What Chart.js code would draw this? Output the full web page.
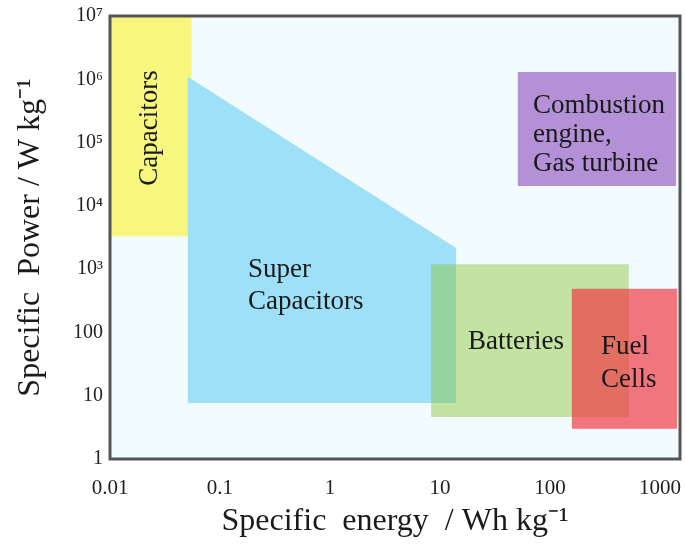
<!DOCTYPE html>
<html>
<head>
<meta charset="utf-8">
<script src="https://cdn.jsdelivr.net/npm/chart.js@4.4.1/dist/chart.umd.min.js"></script>
<style>
  body { margin: 0; background: #ffffff; }
  canvas { display: block; }
</style>
</head>
<body>
<canvas id="ragone" width="685" height="544"></canvas>
<script>
// ---- data ----
// x = specific energy (Wh/kg), y = specific power (W/kg)
const xTickValues = [0.01, 0.1, 1, 10, 100, 1000];
const xTickLabels = ['0.01', '0.1', '1', '10', '100', '1000'];
const yTickValues = [1, 10, 100, 1e3, 1e4, 1e5, 1e6, 1e7];
const yTickLabels = ['1', '10', '100', '10³', '10⁴', '10⁵', '10⁶', '10⁷'];

const capacitorsX = [0.01, 0.055, 0.055, 0.01];
const capacitorsY = [1e7, 1e7, 3300, 3300];

const superCapX = [0.051, 14, 14, 0.051];
const superCapY = [1.1e6, 2150, 7.7, 7.7];

const batteriesX = [8.3, 520, 520, 8.3];
const batteriesY = [1200, 1200, 4.6, 4.6];

const fuelCellsX = [158, 1430, 1430, 158];
const fuelCellsY = [490, 490, 3.0, 3.0];

const combustionX = [51, 1400, 1400, 51];
const combustionY = [1.3e6, 1.3e6, 2.06e4, 2.06e4];

// region labels: anchor in data units (first line baseline, left edge)
const regionLabels = [
    { lines: ['Capacitors'], x: 0.0231, y: 1.7e5, rotate: true },
    { lines: ['Super', 'Capacitors'], x: 0.18, y: 750, lineGap: 32 },
    { lines: ['Batteries'], x: 18, y: 55 },
    { lines: ['Fuel', 'Cells'], x: 291, y: 46, lineGap: 33 },
    { lines: ['Combustion', 'engine,', 'Gas turbine'], x: 70, y: 2.9e5, lineGap: 29 }
];

const SERIF = '"Liberation Serif", "Times New Roman", serif';

function toPoints(xs, ys) {
    return xs.map((x, i) => ({ x: x, y: ys[i] }));
}

function region(label, xs, ys, color, order) {
    return {
        label: label,
        data: toPoints(xs, ys),
        showLine: true,
        fill: 'shape',
        backgroundColor: color,
        borderWidth: 0,
        borderColor: 'rgba(0,0,0,0)',
        pointRadius: 0,
        tension: 0,
        order: order
    };
}

// plot background + frame
const framePlugin = {
    id: 'frame',
    beforeDraw(chart) {
        const { ctx, chartArea: a } = chart;
        ctx.save();
        ctx.fillStyle = '#f2fbfe';
        ctx.fillRect(a.left, a.top, a.right - a.left, a.bottom - a.top);
        ctx.restore();
    },
    afterDraw(chart) {
        const { ctx, chartArea: a } = chart;
        ctx.save();
        ctx.strokeStyle = '#555555';
        ctx.lineWidth = 3;
        ctx.strokeRect(a.left, a.top, a.right - a.left, a.bottom - a.top);
        ctx.restore();
    }
};

// text inside the regions, placed through the scales
const labelPlugin = {
    id: 'regionLabels',
    afterDatasetsDraw(chart) {
        const { ctx, scales } = chart;
        ctx.save();
        ctx.fillStyle = '#1a1a1a';
        ctx.font = '27px ' + SERIF;
        regionLabels.forEach(l => {
            const px = scales.x.getPixelForValue(l.x);
            const py = scales.y.getPixelForValue(l.y);
            if (l.rotate) {
                ctx.save();
                ctx.translate(px, py);
                ctx.rotate(-Math.PI / 2);
                ctx.textAlign = 'center';
                ctx.textBaseline = 'middle';
                ctx.fillText(l.lines[0], 0, 0);
                ctx.restore();
            } else {
                ctx.textAlign = 'left';
                ctx.textBaseline = 'alphabetic';
                l.lines.forEach((t, i) => ctx.fillText(t, px, py + i * (l.lineGap || 0)));
            }
        });
        ctx.restore();
    }
};

new Chart(document.getElementById('ragone'), {
    type: 'scatter',
    data: {
        datasets: [
            region('Combustion engine, Gas turbine', combustionX, combustionY, '#b490d6', 1),
            region('Fuel Cells', fuelCellsX, fuelCellsY, 'rgba(240, 60, 70, 0.7)', 2),
            region('Batteries', batteriesX, batteriesY, 'rgba(135, 198, 50, 0.45)', 3),
            region('Super Capacitors', superCapX, superCapY, '#9fe0f9', 4),
            region('Capacitors', capacitorsX, capacitorsY, '#f6f77c', 5)
        ]
    },
    options: {
        responsive: false,
        animation: false,
        layout: { padding: { top: 16, right: 5, left: 0, bottom: 0 } },
        plugins: {
            legend: { display: false },
            tooltip: { enabled: false }
        },
        scales: {
            x: {
                type: 'logarithmic',
                min: 0.01,
                max: 1520,
                grid: { display: false, drawTicks: false },
                border: { display: false },
                afterBuildTicks: s => { s.ticks = xTickValues.map(v => ({ value: v })); },
                afterFit: s => { s.height = 85; s.paddingLeft = 0; s.paddingRight = 0; },
                ticks: {
                    autoSkip: false,
                    maxRotation: 0,
                    padding: 17,
                    color: '#222222',
                    font: { family: SERIF, size: 21 },
                    callback: (v, i) => xTickLabels[i]
                },
                title: {
                    display: true,
                    text: 'Specific  energy  / Wh kg⁻¹',
                    color: '#1a1a1a',
                    font: { family: SERIF, size: 32 },
                    padding: { top: 0, bottom: 3 }
                }
            },
            y: {
                type: 'logarithmic',
                min: 1,
                max: 1e7,
                grid: { display: false, drawTicks: false },
                border: { display: false },
                afterBuildTicks: s => { s.ticks = yTickValues.map(v => ({ value: v })); },
                afterFit: s => { s.width = 110; s.paddingTop = 0; s.paddingBottom = 0; },
                ticks: {
                    autoSkip: false,
                    padding: 7,
                    color: '#222222',
                    font: { family: SERIF, size: 20 },
                    callback: (v, i) => yTickLabels[i]
                },
                title: {
                    display: true,
                    text: 'Specific  Power / W kg⁻¹',
                    color: '#1a1a1a',
                    font: { family: SERIF, size: 32 },
                    padding: { top: 11, bottom: 0 }
                }
            }
        }
    },
    plugins: [framePlugin, labelPlugin]
});
</script>
</body>
</html>
